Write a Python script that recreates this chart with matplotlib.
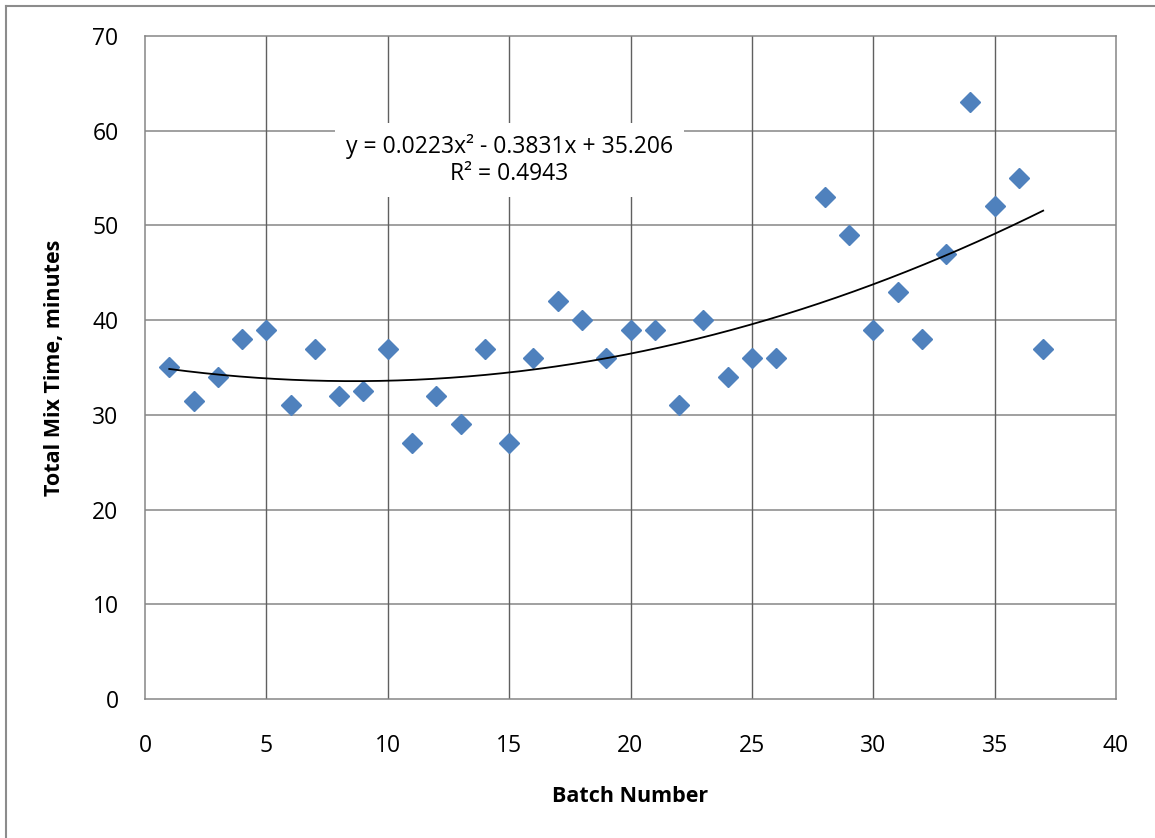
import numpy as np
import matplotlib
matplotlib.use("Agg")
import matplotlib.pyplot as plt

batch = [1, 2, 3, 4, 5, 6, 7, 8, 9, 10, 11, 12, 13, 14, 15, 16, 17, 18, 19, 20,
         21, 22, 23, 24, 25, 26, 28, 29, 30, 31, 32, 33, 34, 35, 36, 37]
mix_time = [35, 31.5, 34, 38, 39, 31, 37, 32, 32.5, 37, 27, 32, 29, 37, 27, 36, 42, 40, 36, 39,
            39, 31, 40, 34, 36, 36, 53, 49, 39, 43, 38, 47, 63, 52, 55, 37]
trend_coef = [0.0223, -0.3831, 35.206]
r_squared = 0.4943
x_ticks = [0, 5, 10, 15, 20, 25, 30, 35, 40]
y_ticks = [0, 10, 20, 30, 40, 50, 60, 70]

plt.rcParams['font.family'] = ['Open Sans', 'DejaVu Sans']

W, H = 1155, 838
fig = plt.figure(figsize=(W / 100, H / 100), dpi=100)
ax = fig.add_axes([145 / W, 1 - 699 / H, (1116 - 145) / W, (699 - 36) / H])

# outer chart border (left and top visible)
fig.add_artist(plt.Line2D([5.5 / W, 5.5 / W], [0, 1 - 6 / H], transform=fig.transFigure,
                          color='#8c8c8c', lw=1.5))
fig.add_artist(plt.Line2D([5.5 / W, 1], [1 - 6 / H, 1 - 6 / H], transform=fig.transFigure,
                          color='#8c8c8c', lw=1.5))

ax.set_xlim(0, 40)
ax.set_ylim(0, 70)
ax.set_xticks(x_ticks)
ax.set_yticks(y_ticks)
ax.tick_params(length=0, labelsize=16.5, colors='black')
ax.tick_params(axis='x', pad=25)
ax.tick_params(axis='y', pad=19)

for v in y_ticks[1:-1]:
    ax.axhline(v, color='#868686', lw=1.1, zorder=1)
for v in x_ticks[1:-1]:
    ax.axvline(v, color='#606060', lw=1.0, zorder=1)
for s in ax.spines.values():
    s.set_color('#868686')
    s.set_linewidth(1.1)

ax.plot(batch, mix_time, linestyle='none', marker='D', markersize=9.8,
        color='#4F81BD', markeredgecolor='#4F81BD', zorder=3)

xs = np.linspace(min(batch), max(batch), 200)
ys = np.polyval(trend_coef, xs)
ax.plot(xs, ys, color='black', lw=1.3, zorder=4)

eq = f"y = {trend_coef[0]:.4f}x² - {abs(trend_coef[1]):.4f}x + {trend_coef[2]:.3f}\nR² = {r_squared:.4f}"
ax.text(15.0, 56.9, eq, ha='center', va='center', fontsize=16.5, linespacing=1.15,
        bbox=dict(facecolor='white', edgecolor='none', pad=8), zorder=5)

ax.set_xlabel('Batch Number', fontsize=15.5, fontweight='bold', labelpad=20)
ax.set_ylabel('Total Mix Time, minutes', fontsize=15.5, fontweight='bold', labelpad=20)

fig.savefig('out.png', dpi=100)
